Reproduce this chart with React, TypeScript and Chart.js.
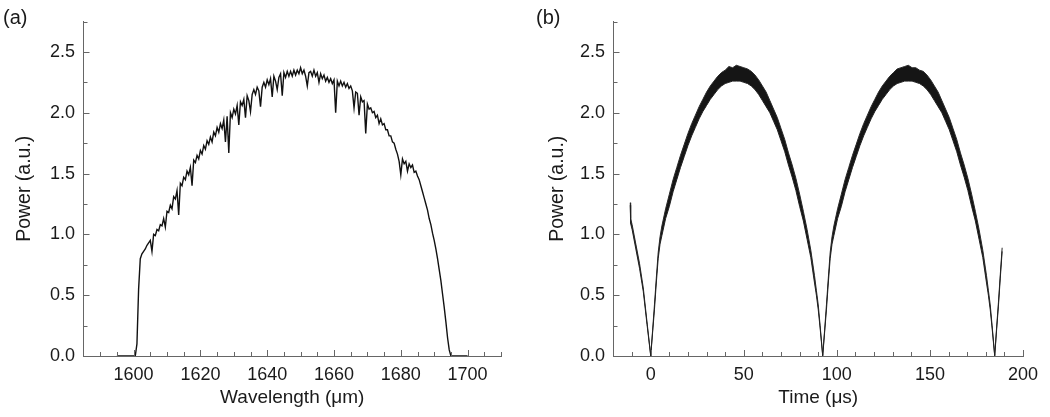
import React, { useEffect, useRef } from 'react';
import { Chart, registerables } from 'chart.js';

Chart.register(...registerables);

// ---------- Panel (a): spectrum ----------
const WAVELENGTH_NM = [
  1595, 1600.5, 1601, 1601.5,
  1602, 1602.5, 1603, 1603.5, 1604, 1604.5, 1605, 1605.5, 1606, 1606.5,
  1607, 1607.5, 1608, 1608.5, 1609, 1609.5, 1610, 1610.5, 1611, 1611.5,
  1612, 1612.5, 1613, 1613.5, 1614, 1614.5, 1615, 1615.5, 1616, 1616.5,
  1617, 1617.5, 1618, 1618.5, 1619, 1619.5, 1620, 1620.5, 1621, 1621.5,
  1622, 1622.5, 1623, 1623.5, 1624, 1624.5, 1625, 1625.5, 1626, 1626.5,
  1627, 1627.5, 1628, 1628.5, 1629, 1629.5, 1630, 1630.5, 1631, 1631.5,
  1632, 1632.5, 1633, 1633.5, 1634, 1634.5, 1635, 1635.5, 1636, 1636.5,
  1637, 1637.5, 1638, 1638.5, 1639, 1639.5, 1640, 1640.5, 1641, 1641.5,
  1642, 1642.5, 1643, 1643.5, 1644, 1644.5, 1645, 1645.5, 1646, 1646.5,
  1647, 1647.5, 1648, 1648.5, 1649, 1649.5, 1650, 1650.5, 1651, 1651.5,
  1652, 1652.5, 1653, 1653.5, 1654, 1654.5, 1655, 1655.5, 1656, 1656.5,
  1657, 1657.5, 1658, 1658.5, 1659, 1659.5, 1660, 1660.5, 1661, 1661.5,
  1662, 1662.5, 1663, 1663.5, 1664, 1664.5, 1665, 1665.5, 1666, 1666.5,
  1667, 1667.5, 1668, 1668.5, 1669, 1669.5, 1670, 1670.5, 1671, 1671.5,
  1672, 1672.5, 1673, 1673.5, 1674, 1674.5, 1675, 1675.5, 1676, 1676.5,
  1677, 1677.5, 1678, 1678.5, 1679, 1679.5, 1680, 1680.5, 1681, 1681.5,
  1682, 1682.5, 1683, 1683.5, 1684, 1684.5, 1685, 1685.5, 1686, 1686.5,
  1687, 1687.5, 1688, 1688.5, 1689, 1689.5, 1690, 1690.5, 1691, 1691.5,
  1692, 1692.5, 1693, 1693.5, 1694, 1694.5, 1695,
  1700,
];

const POWER_A = [
  0, 0, 0.1, 0.55,
  0.80, 0.84, 0.86, 0.88, 0.91, 0.93, 0.95, 0.86, 1.00, 0.99,
  1.04, 1.03, 1.08, 1.07, 1.13, 1.06, 1.19, 1.18, 1.24, 1.21,
  1.31, 1.29, 1.36, 1.16, 1.42, 1.40, 1.47, 1.45, 1.52, 1.49,
  1.55, 1.40, 1.61, 1.59, 1.65, 1.62, 1.69, 1.66, 1.73, 1.70,
  1.77, 1.74, 1.80, 1.76, 1.84, 1.81, 1.88, 1.84, 1.91, 1.87,
  1.94, 1.76, 1.97, 1.67, 2.00, 1.96, 2.03, 1.99, 2.06, 1.90,
  2.09, 2.06, 2.11, 1.96, 2.14, 2.10, 2.01, 2.15, 2.19, 2.15,
  2.21, 2.18, 2.05, 2.21, 2.25, 2.21, 2.27, 2.23, 2.28, 2.13,
  2.30, 2.26, 2.19, 2.29, 2.32, 2.14, 2.33, 2.29, 2.34, 2.30,
  2.34, 2.30, 2.35, 2.31, 2.35, 2.32, 2.37, 2.32, 2.35, 2.30,
  2.22, 2.33, 2.34, 2.30, 2.35, 2.30, 2.33, 2.25, 2.32, 2.28,
  2.31, 2.26, 2.29, 2.25, 2.28, 2.24, 2.27, 2.00, 2.26, 2.22,
  2.26, 2.22, 2.25, 2.21, 2.24, 2.20, 2.22, 2.18, 2.04, 2.17,
  2.16, 1.98, 2.13, 2.09, 2.10, 1.83, 2.07, 2.03, 2.04, 2.00,
  2.01, 1.96, 1.98, 1.91, 1.95, 1.90, 1.91, 1.86, 1.86, 1.81,
  1.81, 1.76, 1.75, 1.70, 1.66, 1.60, 1.49, 1.62, 1.58, 1.60,
  1.52, 1.58, 1.55, 1.57, 1.51, 1.52, 1.48, 1.45, 1.40, 1.35,
  1.30, 1.25, 1.20, 1.13, 1.08, 1.01, 0.95, 0.88, 0.80, 0.71,
  0.62, 0.51, 0.40, 0.28, 0.15, 0.05, 0.00,
  0,
];

// ---------- Panel (b): time trace (noise band: upper / lower envelope) ----------
const TIME_US = [
  -11, -10.8, -10, -8, -6, -4, -2, 0,
  1, 2, 3, 4, 5, 6,
  8, 10, 12, 14, 16, 18, 20, 22, 24, 26,
  28, 30, 32, 34, 36, 38, 40, 42, 44, 46,
  48, 50, 52, 54, 56, 58, 60, 62, 64, 66,
  68, 70, 72, 74, 76, 78, 80, 82, 84, 86, 88,
  89, 90, 91, 92.4,
  93.4, 94.4, 95.4, 96.4, 97.4, 98.4,
  100.4, 102.4, 104.4, 106.4, 108.4, 110.4, 112.4, 114.4, 116.4, 118.4,
  120.4, 122.4, 124.4, 126.4, 128.4, 130.4, 132.4, 134.4, 136.4, 138.4,
  140.4, 142.4, 144.4, 146.4, 148.4, 150.4, 152.4, 154.4, 156.4, 158.4,
  160.4, 162.4, 164.4, 166.4, 168.4, 170.4, 172.4, 174.4, 176.4, 178.4, 180.4,
  181.4, 182.4, 183.4, 184.8,
  185.8, 186.8, 187.8, 188.8,
];

const POWER_B_UPPER = [
  1.26, 1.13, 1.08, 0.92, 0.76, 0.56, 0.28, 0.005,
  0.21, 0.42, 0.64, 0.85, 0.98, 1.07,
  1.21, 1.33, 1.45, 1.55, 1.65, 1.74, 1.83, 1.91, 1.98, 2.05,
  2.11, 2.17, 2.22, 2.26, 2.30, 2.33, 2.35, 2.38, 2.37, 2.39,
  2.38, 2.37, 2.36, 2.34, 2.31, 2.27, 2.22, 2.17, 2.10, 2.03,
  1.96, 1.87, 1.78, 1.67, 1.57, 1.46, 1.33, 1.19, 1.04, 0.87, 0.66,
  0.54, 0.42, 0.25, 0.005,
  0.21, 0.42, 0.64, 0.85, 0.98, 1.07,
  1.21, 1.33, 1.45, 1.55, 1.65, 1.74, 1.83, 1.91, 1.98, 2.05,
  2.11, 2.17, 2.22, 2.26, 2.30, 2.33, 2.36, 2.37, 2.38, 2.39,
  2.37, 2.37, 2.35, 2.34, 2.31, 2.27, 2.22, 2.17, 2.10, 2.03,
  1.96, 1.87, 1.78, 1.67, 1.57, 1.46, 1.33, 1.19, 1.04, 0.87, 0.66,
  0.54, 0.42, 0.25, 0.005,
  0.23, 0.44, 0.67, 0.89,
];

const POWER_B_LOWER = [
  1.24, 1.09, 1.04, 0.88, 0.72, 0.53, 0.26, 0,
  0.19, 0.38, 0.60, 0.80, 0.92, 0.99,
  1.13, 1.23, 1.35, 1.45, 1.55, 1.64, 1.73, 1.81, 1.88, 1.95,
  2.01, 2.06, 2.11, 2.15, 2.19, 2.22, 2.24, 2.25, 2.26, 2.26,
  2.26, 2.25, 2.24, 2.22, 2.19, 2.15, 2.10, 2.05, 2.00, 1.93,
  1.86, 1.77, 1.68, 1.57, 1.47, 1.36, 1.23, 1.11, 0.96, 0.81, 0.60,
  0.50, 0.38, 0.23, 0,
  0.19, 0.38, 0.60, 0.80, 0.92, 0.99,
  1.13, 1.23, 1.35, 1.45, 1.55, 1.64, 1.73, 1.81, 1.88, 1.95,
  2.01, 2.06, 2.11, 2.15, 2.19, 2.22, 2.24, 2.25, 2.26, 2.26,
  2.26, 2.25, 2.24, 2.22, 2.19, 2.15, 2.10, 2.05, 2.00, 1.93,
  1.86, 1.77, 1.68, 1.57, 1.47, 1.36, 1.23, 1.11, 0.96, 0.81, 0.60,
  0.50, 0.38, 0.23, 0,
  0.21, 0.41, 0.64, 0.86,
];

// ---------- Axes / ticks ----------
const X_TICKS_A = [1600, 1620, 1640, 1660, 1680, 1700];
const X_TICKS_B = [0, 50, 100, 150, 200];
const Y_TICKS = [0, 0.5, 1.0, 1.5, 2.0, 2.5];

const FONT = "'Liberation Sans', Arial, Helvetica, sans-serif";
const TEXT = '#1a1a1a';
const AXIS = '#666666';
const LINE = '#111111';

const inwardTicks = {
  id: 'inwardTicks',
  afterDraw(chart: any, _args: any, opts: any) {
    const { ctx, chartArea, scales } = chart;
    const xs = scales.x;
    const ys = scales.y;
    ctx.save();
    ctx.strokeStyle = AXIS;
    ctx.lineWidth = 1;
    ctx.beginPath();
    const nx = Math.round((opts.xMax - opts.xMin) / opts.xMinor);
    for (let i = 1; i <= nx; i++) {
      const v = opts.xMin + i * opts.xMinor;
      const px = Math.round(xs.getPixelForValue(v)) + 0.5;
      const len = opts.xMajor.includes(v) ? 6 : 4;
      ctx.moveTo(px, chartArea.bottom);
      ctx.lineTo(px, chartArea.bottom - len);
    }
    const ny = Math.round((opts.yMax - opts.yMin) / opts.yMinor);
    for (let i = 1; i <= ny; i++) {
      const v = opts.yMin + i * opts.yMinor;
      const py = Math.round(ys.getPixelForValue(v)) + 0.5;
      const len = Y_TICKS.includes(v) ? 6 : 4;
      ctx.moveTo(chartArea.left, py);
      ctx.lineTo(chartArea.left + len, py);
    }
    ctx.stroke();
    ctx.restore();
  },
};

function yScale(axisWidth: number, titlePad: number) {
  return {
    type: 'linear',
    min: 0,
    max: 2.75,
    afterBuildTicks: (s: any) => {
      s.ticks = Y_TICKS.map((value) => ({ value }));
    },
    afterFit: (s: any) => {
      s.width = axisWidth;
    },
    grid: { display: false, drawTicks: false },
    border: { display: true, color: AXIS, width: 1 },
    ticks: {
      padding: 8.5,
      color: TEXT,
      font: { family: FONT, size: 18 },
      callback: (v: any) => Number(v).toFixed(1),
    },
    title: {
      display: true,
      text: 'Power (a.u.)',
      color: TEXT,
      font: { family: FONT, size: 19.5 },
      padding: { top: titlePad, bottom: 0 },
    },
  };
}

function xScale(min: number, max: number, ticks: number[], title: string) {
  return {
    type: 'linear',
    min,
    max,
    afterBuildTicks: (s: any) => {
      s.ticks = ticks.map((value) => ({ value }));
    },
    afterFit: (s: any) => {
      s.height = 61;
    },
    grid: { display: false, drawTicks: false },
    border: { display: true, color: AXIS, width: 1 },
    ticks: {
      padding: 8,
      color: TEXT,
      maxRotation: 0,
      autoSkip: false,
      font: { family: FONT, size: 18 },
      callback: (v: any) => String(v),
    },
    title: {
      display: true,
      text: title,
      color: TEXT,
      font: { family: FONT, size: 19 },
      padding: { top: 0, bottom: 7.6 },
    },
  };
}

export default function App() {
  const refA = useRef<HTMLCanvasElement>(null);
  const refB = useRef<HTMLCanvasElement>(null);

  useEffect(() => {
    const dataA = WAVELENGTH_NM.map((x, i) => ({ x, y: POWER_A[i] }));
    const upper = TIME_US.map((x, i) => ({ x, y: POWER_B_UPPER[i] }));
    const lower = TIME_US.map((x, i) => ({ x, y: POWER_B_LOWER[i] }));

    const chartA = new Chart(refA.current as HTMLCanvasElement, {
      type: 'line',
      data: {
        datasets: [
          {
            data: dataA,
            borderColor: LINE,
            borderWidth: 1.4,
            pointRadius: 0,
            tension: 0,
            fill: false,
          },
        ],
      },
      options: {
        animation: false,
        responsive: false,
        maintainAspectRatio: false,
        layout: { padding: { left: 0, top: 21.5, right: 24, bottom: 0 } },
        plugins: {
          legend: { display: false },
          tooltip: { enabled: false },
          inwardTicks: { xMin: 1585, xMax: 1710, xMinor: 5, xMajor: X_TICKS_A, yMin: 0, yMax: 2.75, yMinor: 0.25 },
        } as any,
        scales: {
          x: xScale(1585, 1710, X_TICKS_A, 'Wavelength (μm)') as any,
          y: yScale(83.5, 13.4) as any,
        },
      },
      plugins: [inwardTicks],
    } as any);

    const chartB = new Chart(refB.current as HTMLCanvasElement, {
      type: 'line',
      data: {
        datasets: [
          {
            data: lower,
            borderColor: '#222222',
            borderWidth: 1,
            pointRadius: 0,
            tension: 0,
            fill: false,
          },
          {
            data: upper,
            borderColor: '#2a2a2a',
            borderWidth: 1,
            pointRadius: 0,
            tension: 0,
            fill: '-1',
            backgroundColor: '#151515',
          },
        ],
      },
      options: {
        animation: false,
        responsive: false,
        maintainAspectRatio: false,
        layout: { padding: { left: 0, top: 21.5, right: 27, bottom: 0 } },
        plugins: {
          legend: { display: false },
          tooltip: { enabled: false },
          inwardTicks: { xMin: -20, xMax: 200, xMinor: 10, xMajor: X_TICKS_B, yMin: 0, yMax: 2.75, yMinor: 0.25 },
        } as any,
        scales: {
          x: xScale(-20, 200, X_TICKS_B, 'Time (μs)') as any,
          y: yScale(88.5, 21.4) as any,
        },
      },
      plugins: [inwardTicks],
    } as any);

    return () => {
      chartA.destroy();
      chartB.destroy();
    };
  }, []);

  const label: React.CSSProperties = {
    position: 'absolute',
    top: 6,
    fontFamily: FONT,
    fontSize: 20,
    lineHeight: '22px',
    color: TEXT,
  };

  return (
    <div
      style={{
        position: 'absolute',
        left: 0,
        top: 0,
        width: 1050,
        height: 417,
        background: '#ffffff',
        overflow: 'hidden',
      }}
    >
      <div style={{ position: 'absolute', left: 0, top: 0, width: 525, height: 417 }}>
        <canvas ref={refA} width={525} height={417} style={{ display: 'block', width: 525, height: 417 }} />
      </div>
      <div style={{ position: 'absolute', left: 525, top: 0, width: 525, height: 417 }}>
        <canvas ref={refB} width={525} height={417} style={{ display: 'block', width: 525, height: 417 }} />
      </div>
      <div style={{ ...label, left: 3 }}>(a)</div>
      <div style={{ ...label, left: 536 }}>(b)</div>
    </div>
  );
}
